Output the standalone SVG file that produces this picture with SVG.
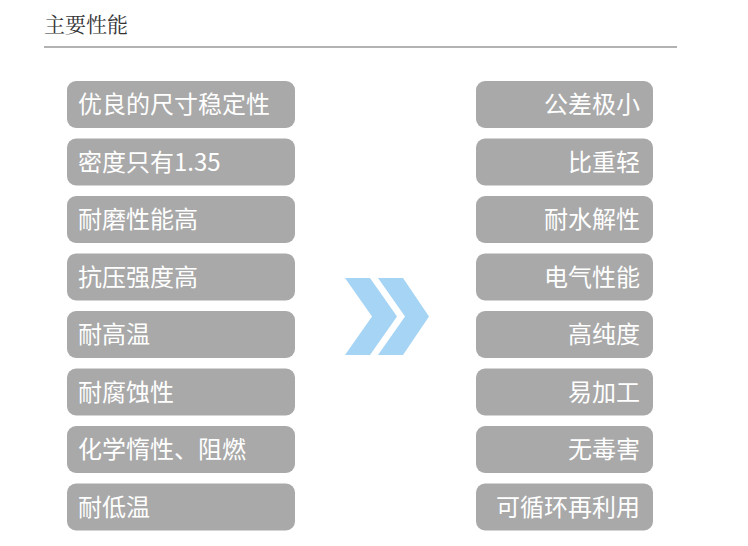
<svg xmlns="http://www.w3.org/2000/svg" width="748" height="546" viewBox="0 0 748 546">
<style>
.b{fill:#a9a9a9}
.t{font-family:"Noto Sans CJK SC","Noto Sans",sans-serif;font-size:24px;fill:#fff}
.r{text-anchor:end}
</style>
<rect width="748" height="546" fill="#fff"/>
<text x="44" y="32" font-family="'Noto Serif CJK SC','Noto Sans CJK SC',serif" font-size="21" fill="#333">主要性能</text>
<line x1="44" y1="47" x2="677" y2="47" stroke="#666" stroke-width="1"/>
<g id="left">
<g id="l1"><rect class="b" x="67" y="81" width="228" height="47" rx="9"/><text class="t" x="78" y="113">优良的尺寸稳定性</text></g>
<g id="l2"><rect class="b" x="67" y="138.5" width="228" height="47" rx="9"/><text class="t" x="78" y="170.5">密度只有1.35</text></g>
<g id="l3"><rect class="b" x="67" y="196" width="228" height="47" rx="9"/><text class="t" x="78" y="228">耐磨性能高</text></g>
<g id="l4"><rect class="b" x="67" y="253.5" width="228" height="47" rx="9"/><text class="t" x="78" y="285.5">抗压强度高</text></g>
<g id="l5"><rect class="b" x="67" y="311" width="228" height="47" rx="9"/><text class="t" x="78" y="343">耐高温</text></g>
<g id="l6"><rect class="b" x="67" y="368.5" width="228" height="47" rx="9"/><text class="t" x="78" y="400.5">耐腐蚀性</text></g>
<g id="l7"><rect class="b" x="67" y="426" width="228" height="47" rx="9"/><text class="t" x="78" y="458">化学惰性、阻燃</text></g>
<g id="l8"><rect class="b" x="67" y="483.5" width="228" height="47" rx="9"/><text class="t" x="78" y="515.5">耐低温</text></g>
</g>
<g id="right">
<g id="r1"><rect class="b" x="476" y="81" width="177" height="47" rx="9"/><text class="t r" x="640" y="113">公差极小</text></g>
<g id="r2"><rect class="b" x="476" y="138.5" width="177" height="47" rx="9"/><text class="t r" x="640" y="170.5">比重轻</text></g>
<g id="r3"><rect class="b" x="476" y="196" width="177" height="47" rx="9"/><text class="t r" x="640" y="228">耐水解性</text></g>
<g id="r4"><rect class="b" x="476" y="253.5" width="177" height="47" rx="9"/><text class="t r" x="640" y="285.5">电气性能</text></g>
<g id="r5"><rect class="b" x="476" y="311" width="177" height="47" rx="9"/><text class="t r" x="640" y="343">高纯度</text></g>
<g id="r6"><rect class="b" x="476" y="368.5" width="177" height="47" rx="9"/><text class="t r" x="640" y="400.5">易加工</text></g>
<g id="r7"><rect class="b" x="476" y="426" width="177" height="47" rx="9"/><text class="t r" x="640" y="458">无毒害</text></g>
<g id="r8"><rect class="b" x="476" y="483.5" width="177" height="47" rx="9"/><text class="t r" x="640" y="515.5">可循环再利用</text></g>
</g>
<g id="arrows" fill="#a6d4f5">
<polygon points="345,278 370,278 397,316.5 370,355 345,355 372,316.5"/>
<polygon points="378,278 403,278 429,316.5 403,355 378,355 405,316.5"/>
</g>
</svg>
